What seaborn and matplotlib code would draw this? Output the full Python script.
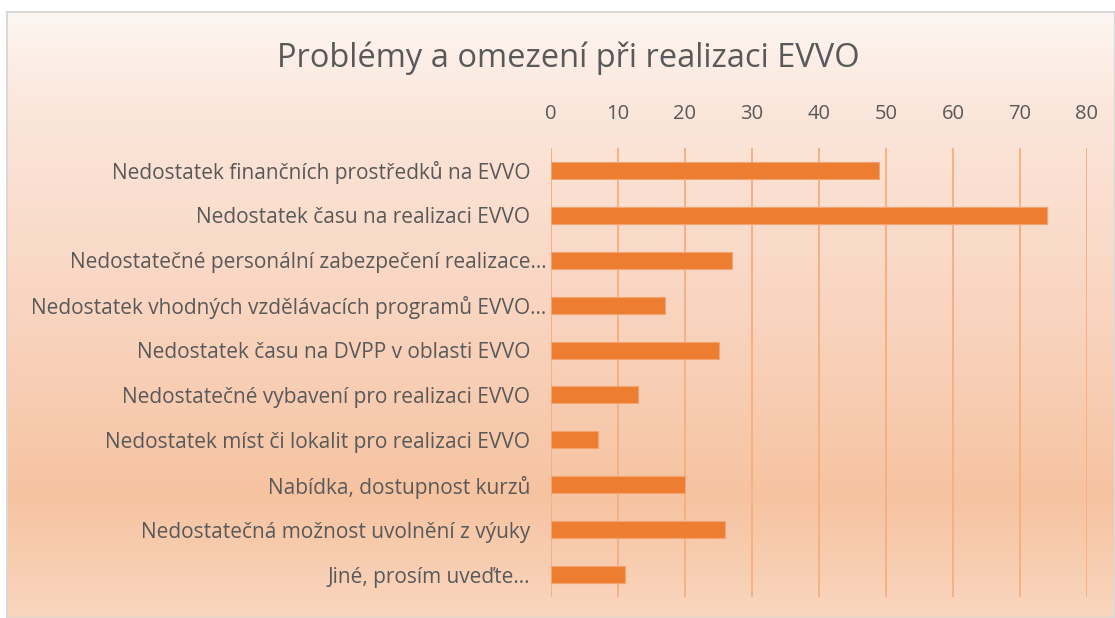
import numpy as np
import matplotlib.pyplot as plt
import matplotlib.transforms as mtransforms
from matplotlib.colors import LinearSegmentedColormap
import seaborn as sns

sns.set_style('white')
plt.rcParams['font.family'] = ['Open Sans', 'DejaVu Sans']

categories = [
    "Nedostatek finančních prostředků na EVVO",
    "Nedostatek času na realizaci EVVO",
    "Nedostatečné personální zabezpečení realizace...",
    "Nedostatek vhodných vzdělávacích programů EVVO...",
    "Nedostatek času na DVPP v oblasti EVVO",
    "Nedostatečné vybavení pro realizaci EVVO",
    "Nedostatek míst či lokalit pro realizaci EVVO",
    "Nabídka, dostupnost kurzů",
    "Nedostatečná možnost uvolnění z výuky",
    "Jiné, prosím uveďte...",
]
values = [49, 74, 27, 17, 25, 13, 7, 20, 26, 11]
ticks = list(range(0, 90, 10))
title = "Problémy a omezení při realizaci EVVO"

W, H = 1115, 618
text_col = '#595959'
fig = plt.figure(figsize=(W / 100, H / 100), dpi=100)
fig.patch.set_facecolor('white')

# chart area with vertical gradient fill and thin grey frame
bg = fig.add_axes([7 / W, 0, 1 - 7 / W, 1 - 12 / H], zorder=0)
cmap = LinearSegmentedColormap.from_list(
    'bg', [(0, '#fdf6f2'), (0.15, '#fbe7dc'), (0.5, '#f9d4bf'),
           (0.8, '#f6c3a1'), (1, '#f9d6be')])
grad = np.linspace(0, 1, 256).reshape(-1, 1)
bg.imshow(grad, aspect='auto', cmap=cmap, extent=[0, 1, 0, 1])
bg.set_xticks([])
bg.set_yticks([])
for s in bg.spines.values():
    s.set_color('#d9d9d9')
    s.set_linewidth(1.5)

ax = fig.add_axes([551 / W, 1 - 597 / H, (1087 - 551) / W, (597 - 148) / H], zorder=1)
ax.patch.set_alpha(0)
sns.barplot(x=values, y=categories, orient='h', color='#ED7D31', saturation=1,
            width=0.38, edgecolor='#f4a46e', linewidth=0.8, ax=ax)

ax.set_xlim(0, 80)
ax.set_xticks(ticks)
ax.xaxis.tick_top()
ax.grid(axis='x', color='#F4B183', linewidth=1.4)
ax.set_axisbelow(True)
ax.axvline(0, color='#d9d9d9', linewidth=1.5, zorder=0.5)
for s in ax.spines.values():
    s.set_visible(False)
ax.set_xlabel('')
ax.set_ylabel('')
ax.tick_params(axis='x', length=0, pad=17, labelsize=14.5, labelcolor=text_col)
ax.tick_params(axis='y', length=0, pad=15, labelsize=15, labelcolor=text_col)

# truncated labels run a bit closer to the axis, like in Excel
shift = mtransforms.ScaledTranslation(16 / 100, 0, fig.dpi_scale_trans)
for lab in ax.get_yticklabels()[2:4]:
    lab.set_transform(lab.get_transform() + shift)

fig.text(568 / W, 1 - 58 / H, title, ha='center', va='center',
         fontsize=23.5, color=text_col)

fig.savefig('out.png', dpi=100)
